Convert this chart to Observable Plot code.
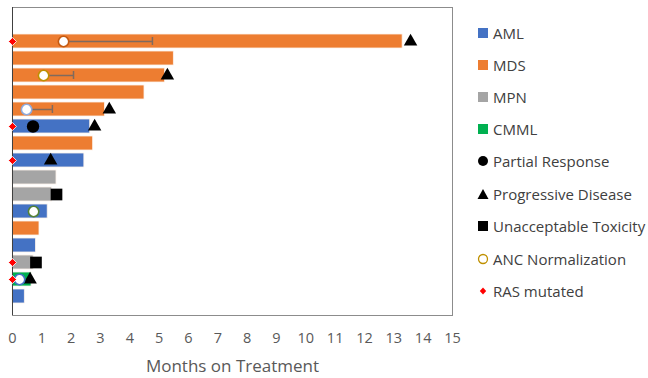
<!DOCTYPE html>
<html>
<head>
<meta charset="utf-8">
<script src="https://cdn.jsdelivr.net/npm/d3@7"></script>
<script src="https://cdn.jsdelivr.net/npm/@observablehq/plot@0.6"></script>
<style>
  body { margin: 0; background: #fff; font-family: "Open Sans", sans-serif; }
  #wrap { position: relative; width: 648px; height: 378px; }
  #legend { position: absolute; left: 477px; top: 0; }
  .item { position: absolute; left: 0; display: flex; align-items: center; white-space: nowrap;
          font-size: 15px; color: #404040; height: 20px; }
  .item svg { margin-right: 4px; }
</style>
</head>
<body>
<div id="wrap"><div id="legend"></div></div>
<script>
// ---- data ----
const patients = ["P1","P2","P3","P4","P5","P6","P7","P8","P9","P10","P11","P12","P13","P14","P15","P16"];
const disease  = ["MDS","MDS","MDS","MDS","MDS","AML","MDS","AML","MPN","MPN","AML","MDS","AML","MPN","CMML","AML"];
const months   = [13.3, 5.5, 5.2, 4.5, 3.15, 2.65, 2.75, 2.45, 1.5, 1.35, 1.2, 0.92, 0.8, 0.72, 0.65, 0.42];

const diseaseTypes  = ["AML","MDS","MPN","CMML"];
const diseaseColors = ["#4472C4","#ED7D31","#A5A5A5","#00B050"];

const partialPatients = ["P6"];
const partialMonths   = [0.7];

const progressivePatients = ["P1","P3","P5","P6","P8","P15"];
const progressiveMonths   = [13.57, 5.28, 3.3, 2.8, 1.3, 0.6];

const toxicityPatients = ["P10","P14"];
const toxicityMonths   = [1.5, 0.8];

const ancPatients = ["P1","P3","P5","P11","P15"];
const ancMonths   = [1.74, 1.06, 0.48, 0.72, 0.24];
const ancEnd      = [4.77, 2.08, 1.36, null, null];
const ancStroke   = ["#C55A11","#BF9000","#8FAADC","#548235","#4472C4"];

const rasPatients = ["P1","P6","P8","P14","P15"];

const xTicks = d3.range(0, 16);
const xTitle = ["Months on Treatment"];

// ---- tables ----
const bars = patients.map((p, i) => ({patient: p, disease: disease[i], months: months[i]}));
const partial = partialPatients.map((p, i) => ({patient: p, months: partialMonths[i]}));
const progressive = progressivePatients.map((p, i) => ({patient: p, months: progressiveMonths[i]}));
const toxicity = toxicityPatients.map((p, i) => ({patient: p, months: toxicityMonths[i]}));
const anc = ancPatients.map((p, i) => ({patient: p, months: ancMonths[i], end: ancEnd[i], stroke: ancStroke[i]}));
const ancRange = anc.filter(d => d.end != null);
const ras = rasPatients.map(p => ({patient: p, months: 0}));

const chart = Plot.plot({
  width: 648,
  height: 378,
  marginLeft: 12,
  marginRight: 196,
  marginTop: 7,
  marginBottom: 63,
  style: {fontFamily: "Open Sans, sans-serif", fontSize: "14.5px", color: "#595959", background: "#fff"},
  x: {domain: [0, 15], ticks: xTicks, tickSize: 0, tickPadding: 17, label: null},
  y: {domain: patients, insetTop: 24.4, insetBottom: 9.4, paddingInner: 0.16, paddingOuter: 0.08, axis: null},
  color: {domain: diseaseTypes, range: diseaseColors},
  marks: [
    Plot.barX(bars, {x: "months", y: "patient", fill: "disease", stroke: "#fdf3ec", strokeWidth: 0.8}),
    Plot.frame({stroke: "#8c8c8c"}),
    Plot.ruleX([0], {stroke: "#404040"}),
    Plot.ruleY(ancRange, {y: "patient", x1: "months", x2: "end", stroke: "#7f6a5e", strokeWidth: 1.5}),
    Plot.tickX(ancRange, {x: "end", y: "patient", stroke: "#7f6a5e", strokeWidth: 1.5, inset: 3}),
    Plot.dot(partial, {x: "months", y: "patient", fill: "black", r: 6.2, symbol: "circle"}),
    Plot.dot(progressive, {x: "months", y: "patient", fill: "black", r: 5, symbol: "triangle"}),
    Plot.dot(toxicity, {x: "months", y: "patient", fill: "black", r: 6.6, symbol: "square"}),
    Plot.dot(anc, {x: "months", y: "patient", fill: "white", stroke: d => d.stroke, strokeWidth: 1.6, r: 5.2}),
    Plot.dot(ras, {x: "months", y: "patient", fill: "red", stroke: "white", strokeWidth: 0.8, r: 3.6, symbol: "diamond2"}),
    Plot.text(xTitle, {frameAnchor: "bottom", dy: 56, fontSize: 17, fill: "#595959"})
  ]
});
document.getElementById("wrap").prepend(chart);

// ---- legend ----
const legendItems = [
  {label: "AML", kind: "rect", color: diseaseColors[0], y: 33},
  {label: "MDS", kind: "rect", color: diseaseColors[1], y: 65},
  {label: "MPN", kind: "rect", color: diseaseColors[2], y: 97},
  {label: "CMML", kind: "rect", color: diseaseColors[3], y: 129},
  {label: "Partial Response", kind: "circle", y: 161},
  {label: "Progressive Disease", kind: "triangle", y: 194},
  {label: "Unacceptable Toxicity", kind: "square", y: 226},
  {label: "ANC Normalization", kind: "ring", y: 259},
  {label: "RAS mutated", kind: "diamond", y: 291}
];
const swatch = {
  rect: c => `<rect x="1" y="1" width="10" height="10" fill="${c}"/>`,
  circle: () => `<circle cx="6" cy="6" r="5" fill="black"/>`,
  triangle: () => `<path d="M6,1L11.5,11H0.5Z" fill="black"/>`,
  square: () => `<rect x="1" y="1" width="10" height="10" fill="black"/>`,
  ring: () => `<circle cx="6" cy="6" r="4.5" fill="white" stroke="#BF9000" stroke-width="1.3"/>`,
  diamond: () => `<path d="M6,2.5L9.2,6L6,9.5L2.8,6Z" fill="red"/>`
};
const legend = document.getElementById("legend");
for (const it of legendItems) {
  const div = document.createElement("div");
  div.className = "item";
  div.style.top = (it.y - 10) + "px";
  div.innerHTML = `<svg width="12" height="12">${swatch[it.kind](it.color)}</svg><span>${it.label}</span>`;
  legend.appendChild(div);
}
</script>
</body>
</html>
